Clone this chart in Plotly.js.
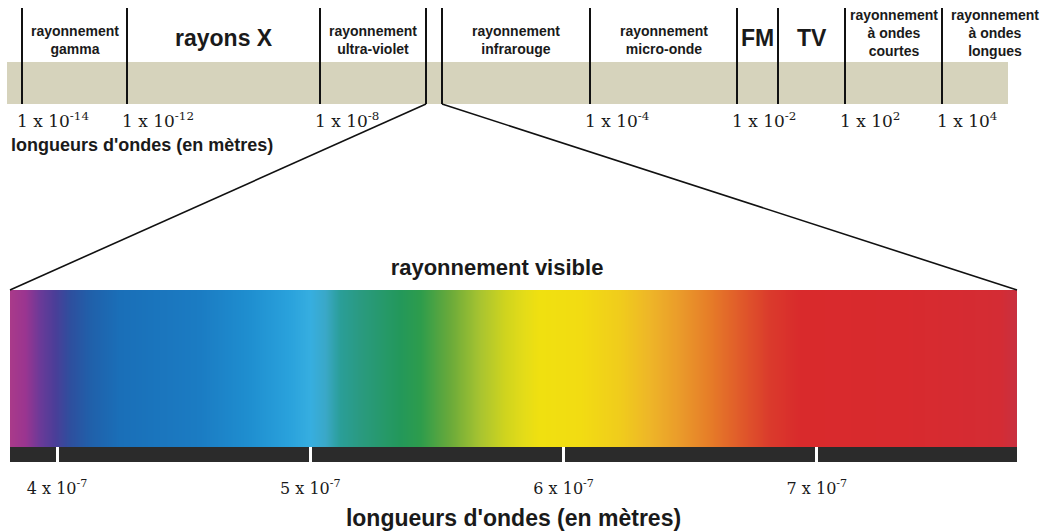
<!DOCTYPE html>
<html>
<head>
<meta charset="utf-8">
<script src="https://cdn.plot.ly/plotly-3.0.1.min.js"></script>
<style>html,body{margin:0;padding:0;background:#fff;}#chart{width:1048px;height:531px;}</style>
</head>
<body>
<div id="chart"></div>
<script>
// ---------- data ----------
// Electromagnetic spectrum bands (schematic, non-linear position scale)
const bandNames = [
  "rayonnement<br>gamma", "rayons X", "rayonnement<br>ultra-violet",
  "rayonnement<br>infrarouge", "rayonnement<br>micro-onde", "FM", "TV",
  "rayonnement<br>à ondes<br>courtes", "rayonnement<br>à ondes<br>longues"
];
const bandStart = [22, 127, 320, 442, 590, 737, 778, 845, 942];
const bandEnd   = [127, 320, 426, 590, 737, 778, 845, 942, 1048];
const bigLabel  = [false, true, false, false, false, true, true, false, false];

// wavelength tick labels of the top band: position on the schematic scale and exponent
const topTickPos = [22, 127, 320, 590, 737, 845, 942];
const topTickExp = [-14, -12, -8, -4, -2, 2, 4];

// visible spectrum: wavelengths (m) and the colour seen there
const specWl = [3.814e-7, 3.874e-7, 3.933e-7, 3.992e-7, 4.051e-7, 4.13e-7, 4.249e-7, 4.565e-7,
  4.762e-7, 4.92e-7, 4.999e-7, 5.058e-7, 5.117e-7, 5.196e-7, 5.354e-7, 5.433e-7, 5.551e-7,
  5.67e-7, 5.769e-7, 5.844e-7, 5.907e-7, 6.065e-7, 6.223e-7, 6.341e-7, 6.46e-7, 6.578e-7,
  6.696e-7, 6.815e-7, 6.933e-7, 7.328e-7, 7.723e-7, 7.79e-7];
const specColors = ["#a93a8a", "#9a3590", "#6a3a98", "#4a3e98", "#2e4f9e", "#2060aa", "#1a6fb8", "#1b7cc3",
  "#1f8fd0", "#2aa2dc", "#36aee0", "#3aa8c8", "#2a9e98", "#2a9a80", "#23985a", "#2d9c4c", "#6aaa3a",
  "#a8c430", "#d0d41e", "#e4dc18", "#f0e010", "#f2dc12", "#f0cc1c", "#eeb528", "#ea9a2a", "#e67c28",
  "#e05a2a", "#da3a2c", "#d92a2c", "#d82a2e", "#d42c34", "#c83040"];

const visTickVals = [4e-7, 5e-7, 6e-7, 7e-7];
const visTickMant = [4, 5, 6, 7];
const visTickExp = -7;

// ---------- layout helpers ----------
const W = 1048, H = 531;
const px = v => v / W;
const py = v => 1 - v / H;

const x2range = [0, 1048], x2dom = [0, 1];
const y2range = [0, 1], y2dom = [py(104), py(8)];
const xrange = [specWl[0], specWl[specWl.length - 1]], xdom = [px(10), px(1017)];
const yrange = [0, 1], ydom = [py(447), py(290)];
const y3dom = [py(462), py(447)];

const lin = (v, r, d) => d[0] + (v - r[0]) / (r[1] - r[0]) * (d[1] - d[0]);

const ink = "#1a1a1a";
const sans = "Liberation Sans, Arial, sans-serif";
const serif = "DejaVu Serif, serif";

// ---------- traces ----------
// vertical separators of the top band
const edges = [];
bandStart.forEach((s, i) => { if (edges.indexOf(s) < 0) edges.push(s); });
bandEnd.forEach(e => { if (e < x2range[1] && edges.indexOf(e) < 0) edges.push(e); });
edges.sort((a, b) => a - b);
const sepX = [], sepY = [];
edges.forEach(e => { sepX.push(e, e, null); sepY.push(0, 1, null); });

const zmin = specWl[0], zmax = specWl[specWl.length - 1];
const colorscale = specWl.map((w, i) => [(w - zmin) / (zmax - zmin), specColors[i]]);

const traces = [
  {
    type: "heatmap", x: specWl, y: [0, 1], z: [specWl, specWl],
    colorscale: colorscale, zmin: zmin, zmax: zmax, zsmooth: "best",
    showscale: false, hoverinfo: "skip", xaxis: "x", yaxis: "y"
  },
  {
    type: "bar", x: [(xrange[0] + xrange[1]) / 2], width: [xrange[1] - xrange[0]], y: [1], base: 0,
    marker: { color: "#2b2b2b", line: { width: 0 } }, hoverinfo: "skip", xaxis: "x", yaxis: "y3", showlegend: false
  },
  {
    type: "scatter", mode: "lines", x: sepX, y: sepY, line: { color: "#111", width: 2 },
    hoverinfo: "skip", xaxis: "x2", yaxis: "y2", showlegend: false
  }
];

// ---------- annotations ----------
const annotations = bandNames.map((n, i) => {
  const lines = n.split("<br>").length;
  return {
    xref: "x2", yref: "y2", x: (bandStart[i] + bandEnd[i]) / 2,
    y: bigLabel[i] ? 0.69 : (lines === 3 ? 0.74 : 0.667),
    text: n, showarrow: false, xanchor: "center", yanchor: "middle",
    font: { family: sans, size: bigLabel[i] ? 23 : 14, color: ink, weight: 700 }
  };
});
annotations.push({
  xref: "paper", yref: "paper", x: px(9), y: py(145), xanchor: "left", yanchor: "middle",
  text: "longueurs d'ondes (en mètres)", showarrow: false,
  font: { family: sans, size: 18, color: ink, weight: 700 }
});

// ---------- shapes ----------
const shapes = [
  { type: "rect", xref: "x2", yref: "y2", x0: 7, x1: 1008, y0: 0, y1: 0.4375,
    fillcolor: "#d6d3bc", line: { width: 0 }, layer: "below" },
  { type: "line", xref: "paper", yref: "paper",
    x0: lin(bandEnd[2], x2range, x2dom), y0: lin(0, y2range, y2dom),
    x1: lin(xrange[0], xrange, xdom), y1: lin(1, yrange, ydom),
    line: { color: "#111", width: 1.6 } },
  { type: "line", xref: "paper", yref: "paper",
    x0: lin(bandStart[3], x2range, x2dom), y0: lin(0, y2range, y2dom),
    x1: lin(xrange[1], xrange, xdom), y1: lin(1, yrange, ydom),
    line: { color: "#111", width: 1.6 } }
];

const layout = {
  width: W, height: H,
  margin: { l: 0, r: 0, t: 0, b: 0 },
  paper_bgcolor: "#fff", plot_bgcolor: "rgba(0,0,0,0)",
  showlegend: false,
  title: {
    text: "rayonnement visible", xref: "paper", yref: "paper",
    x: px(497), xanchor: "center", y: py(267), yanchor: "middle",
    font: { family: sans, size: 22, color: ink, weight: 700 }
  },
  xaxis: {
    domain: xdom, range: xrange, anchor: "y3", showgrid: false, zeroline: false, showline: false,
    tickmode: "array", tickvals: visTickVals,
    ticktext: visTickMant.map(m => m + " x 10<sup>" + visTickExp + "</sup>"),
    ticks: "inside", ticklen: 15, tickwidth: 3, tickcolor: "#ffffff",
    ticklabelstandoff: 15,
    tickfont: { family: serif, size: 16, color: ink },
    title: { text: "longueurs d'ondes (en mètres)", standoff: 14,
      font: { family: sans, size: 23, color: ink, weight: 700 } },
    automargin: false, fixedrange: true
  },
  yaxis: { domain: ydom, range: yrange, visible: false, fixedrange: true },
  yaxis3: { domain: y3dom, range: [0, 1], visible: false, fixedrange: true },
  xaxis2: {
    domain: x2dom, range: x2range, anchor: "y2", showgrid: false, zeroline: false, showline: false,
    tickmode: "array", tickvals: topTickPos,
    ticktext: topTickExp.map(e => "1 x 10<sup>" + e + "</sup>"),
    ticks: "", ticklabelposition: "outside right", ticklabelshift: -5, ticklabelstandoff: 5,
    tickfont: { family: serif, size: 17, color: ink },
    automargin: false, fixedrange: true
  },
  yaxis2: { domain: y2dom, range: y2range, visible: false, fixedrange: true },
  annotations: annotations,
  shapes: shapes
};

Plotly.newPlot("chart", traces, layout, { displayModeBar: false, staticPlot: true });
</script>
</body>
</html>
